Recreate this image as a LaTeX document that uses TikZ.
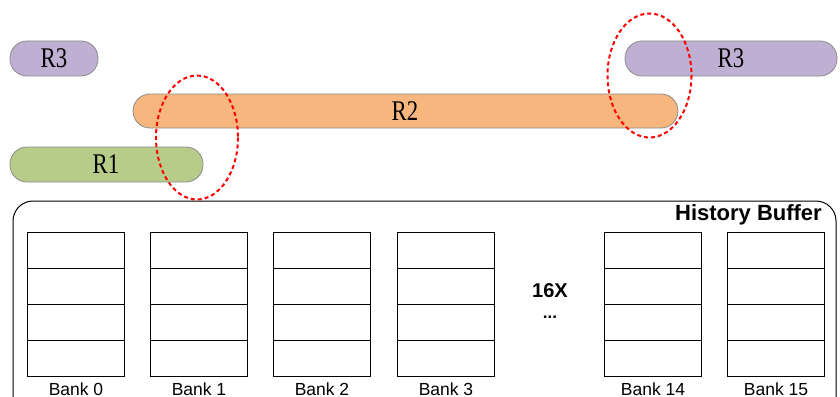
\documentclass[tikz,border=0pt]{standalone}
\usepackage{fontspec}
\setmainfont{Liberation Serif}
\setsansfont{Liberation Sans}
\newfontfamily\rfont[FakeStretch=0.8]{Liberation Serif}
\usetikzlibrary{calc}
\definecolor{rpurple}{HTML}{BFB0D3}
\definecolor{rorange}{HTML}{F6B67E}
\definecolor{rgreen}{HTML}{B8CC8A}
\definecolor{redge}{HTML}{8C8C8C}
\tikzset{
  pill/.style={draw=redge, line width=0.8pt, rounded corners=17pt, inner sep=0pt},
  cell/.style={draw=black, line width=1pt, minimum width=97pt, minimum height=36pt, inner sep=0pt, anchor=north west},
  banklabel/.style={font=\sffamily\fontsize{17.5}{17.5}\selectfont, inner sep=0pt},
  rlabel/.style={font=\rfont\fontsize{28.5}{28.5}\selectfont, inner sep=0pt},
  hilite/.style={draw=red, line width=2pt, dash pattern=on 4pt off 3pt}
}
\begin{document}
\begin{tikzpicture}[x=1pt,y=-1pt]
\useasboundingbox (0,0) rectangle (840,396);
\begin{scope}
\clip (0,0) rectangle (840,396);
% history buffer frame
\draw[line width=1pt, rounded corners=20pt] (13,201) rectangle (836,420);
\end{scope}
\node[font=\sffamily\bfseries\fontsize{22}{22}\selectfont, anchor=east, inner sep=0pt] (hb) at (822,215) {History Buffer};
% pills
\fill[rpurple, rounded corners=17pt] (10,41) rectangle (98,76);
\draw[pill] (10,41) rectangle (98,76);
\node[rlabel] (r3a) at (54,58.5) {R3};
\fill[rorange, rounded corners=17pt] (133,94) rectangle (678,128);
\draw[pill] (133,94) rectangle (678,128);
\node[rlabel] (r2) at (405,111) {R2};
\fill[rgreen, rounded corners=17pt] (10,147) rectangle (203,182);
\draw[pill] (10,147) rectangle (203,182);
\node[rlabel] (r1) at (106,164.5) {R1};
\fill[rpurple, rounded corners=17pt] (625,41) rectangle (837,76);
\draw[pill] (625,41) rectangle (837,76);
\node[rlabel] (r3b) at (731,58.5) {R3};
% highlight ellipses
\draw[hilite] (197,137.5) ellipse [x radius=41, y radius=62];
\draw[hilite] (649.5,75.5) ellipse [x radius=42, y radius=62];
% banks
\foreach \x/\n/\lab in {27/b0/Bank 0, 150/b1/Bank 1, 273/b2/Bank 2, 397/b3/Bank 3, 604/b14/Bank 14, 727/b15/Bank 15}{
  \foreach \r in {0,1,2,3}{
    \node[cell] (\n r\r) at (\x,232+36*\r) {};
  }
  \node[banklabel, anchor=base] (\n lab) at ($(\n r3.south)+(0,18.5)$) {\lab};
}
\node[font=\sffamily\bfseries\fontsize{20}{20}\selectfont, inner sep=0pt, anchor=base] (sx) at (550,297) {16X};
\node[font=\sffamily\bfseries\fontsize{17}{17}\selectfont, inner sep=0pt, anchor=base] (dots) at (550,318) {...};
\end{tikzpicture}
\end{document}
